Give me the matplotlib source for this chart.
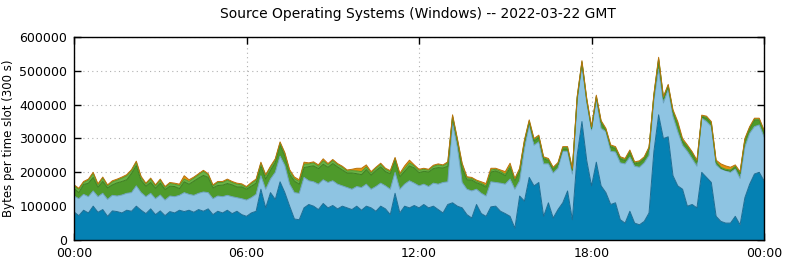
import numpy as np
import matplotlib
matplotlib.use('Agg')
import matplotlib.pyplot as plt
from matplotlib.ticker import FuncFormatter

# values in thousands of bytes, one value every 10 minutes (00:00 .. 24:00)
# top of the dark blue layer
dark_top = [
    83, 72, 88, 80, 100, 82, 90, 70, 86, 84, 80, 88, 85, 100, 88, 78, 92, 75, 86, 72, 84, 80, 88, 84, 88,
    82, 90, 85, 92, 75, 85, 80, 88, 78, 85, 75, 70, 80, 85, 150, 95, 140, 120, 172, 140, 100, 62, 60, 95,
    105, 100, 90, 108, 95, 102, 92, 100, 95, 90, 100, 88, 100, 95, 85, 100, 92, 75, 138, 80, 100, 95, 102, 95,
    105, 95, 100, 90, 80, 105, 110, 100, 95, 75, 65, 105, 78, 70, 98, 100, 85, 78, 70, 35, 130, 115, 185, 160,
    170, 70, 110, 65, 90, 110, 145, 60, 250, 350, 235, 160, 230, 160, 140, 105, 110, 60, 50, 85, 50, 45, 55, 80,
    260, 370, 300, 305, 190, 160, 150, 100, 105, 95, 200, 185, 170, 70, 55, 50, 50, 70, 45, 125, 165, 195, 200, 175,
]
# top of the light blue layer
light_top = [
    130, 122, 135, 128, 145, 128, 138, 120, 132, 130, 133, 138, 140, 160, 140, 128, 138, 122, 133, 118, 130, 128, 132, 140, 135,
    132, 138, 142, 140, 122, 130, 128, 132, 128, 125, 122, 118, 125, 135, 190, 150, 180, 200, 248, 220, 165, 140, 138, 185,
    175, 172, 165, 178, 170, 175, 165, 160, 155, 150, 158, 155, 165, 150, 158, 168, 160, 150, 200, 150, 165, 175, 168, 160,
    165, 158, 168, 165, 170, 172, 345, 275, 170, 150, 145, 150, 138, 130, 172, 170, 168, 165, 180, 150, 175, 270, 340, 280,
    290, 225, 225, 198, 212, 262, 262, 195, 410, 515, 405, 325, 415, 330, 320, 262, 260, 228, 225, 245, 218, 215, 228, 250,
    410, 505, 405, 445, 365, 320, 280, 262, 240, 218, 360, 350, 335, 222, 210, 205, 200, 210, 182, 275, 315, 335, 340, 305,
]
# total (top of the stack)
total = [
    163, 153, 173, 180, 200, 166, 186, 163, 175, 180, 186, 193, 208, 233, 188, 168, 183, 163, 180, 158, 170, 168, 165, 190, 178,
    186, 196, 206, 196, 163, 173, 173, 180, 173, 168, 166, 158, 170, 180, 230, 193, 218, 240, 290, 258, 208, 186, 178, 230,
    228, 231, 222, 240, 226, 238, 226, 218, 207, 209, 212, 212, 222, 202, 215, 227, 212, 205, 244, 197, 219, 236, 222, 209,
    212, 209, 221, 225, 222, 231, 370, 300, 227, 187, 185, 177, 172, 167, 212, 212, 207, 202, 227, 182, 212, 296, 355, 300,
    310, 246, 241, 215, 229, 276, 276, 212, 424, 530, 419, 335, 428, 353, 330, 281, 276, 246, 241, 266, 231, 234, 246, 275,
    430, 540, 424, 460, 385, 350, 300, 281, 261, 236, 369, 366, 350, 236, 225, 219, 215, 222, 202, 300, 335, 360, 360, 325,
]
# thin layers on top: light green and orange (thickness)
lgreen = [
    8, 10, 6, 9, 12, 7, 10, 6, 9, 8, 10, 12, 8, 10, 9, 6, 10, 7, 9, 6, 8, 7, 9, 8, 8,
    9, 10, 12, 8, 6, 9, 8, 10, 7, 8, 6, 5, 8, 9, 8, 10, 9, 8, 6, 8, 9, 7, 8, 10,
    8, 9, 7, 10, 8, 9, 7, 8, 6, 7, 8, 9, 8, 6, 7, 8, 7, 6, 5, 7, 8, 9, 6, 7,
    6, 5, 7, 8, 6, 10, 4, 4, 12, 6, 5, 5, 4, 4, 6, 5, 5, 4, 6, 4, 5, 4, 4, 4,
    4, 3, 3, 3, 3, 4, 4, 3, 3, 3, 3, 3, 3, 3, 3, 3, 3, 3, 3, 3, 3, 3, 3, 3,
    3, 3, 3, 3, 3, 3, 3, 3, 3, 3, 3, 3, 3, 3, 3, 3, 3, 3, 3, 3, 3, 3, 3, 3,
]
orange = [
    3, 3, 3, 3, 3, 3, 3, 3, 3, 3, 3, 3, 3, 3, 3, 3, 3, 3, 3, 3, 3, 3, 4, 10, 5,
    3, 3, 3, 3, 3, 3, 3, 3, 3, 3, 3, 3, 3, 3, 3, 3, 3, 3, 3, 3, 5, 5, 5, 6,
    3, 3, 4, 6, 3, 3, 3, 3, 3, 4, 8, 10, 6, 4, 3, 3, 3, 3, 3, 3, 8, 8, 3, 3,
    3, 3, 3, 3, 3, 3, 3, 3, 3, 3, 3, 3, 4, 7, 5, 3, 4, 8, 8, 3, 3, 3, 3, 4,
    3, 3, 3, 3, 3, 3, 3, 3, 3, 3, 3, 3, 3, 3, 3, 3, 3, 3, 4, 3, 3, 3, 3, 3,
    3, 4, 3, 3, 4, 6, 6, 3, 3, 3, 3, 3, 3, 4, 10, 10, 8, 4, 3, 3, 3, 3, 3, 3,
]

title = 'Source Operating Systems (Windows) -- 2022-03-22 GMT'
xtick_labels = ['00:00', '06:00', '12:00', '18:00', '00:00']

hours = np.arange(len(total)) / 6.0
k = 1000.0
dark_top = np.array(dark_top) * k
light_top = np.array(light_top) * k
total = np.array(total) * k
orange_bot = total - np.array(orange) * k
green_top = orange_bot - np.array(lgreen) * k

fig = plt.figure(figsize=(7.85, 2.64), dpi=100)
ax = fig.add_axes([0.0943, 0.0909, 0.879, 0.769])

layers = [
    (0, dark_top, '#0581b3', '#1b6c93'),
    (dark_top, light_top, '#8ec4e2', '#6ea3c0'),
    (light_top, green_top, '#4e9a2b', '#3d7e20'),
    (green_top, orange_bot, '#6bb347', '#4e9a2b'),
    (orange_bot, total, '#e4900f', '#b8730c'),
]
for bot, top, fc, ec in layers:
    ax.fill_between(hours, bot, top, facecolor=fc, edgecolor='none', lw=0, zorder=2)
    ax.plot(hours, top, color=ec, lw=0.7, zorder=3)

ax.set_xlim(0, 24)
ax.set_ylim(0, 600000)
ax.set_xticks([0, 6, 12, 18, 24])
ax.set_xticklabels(xtick_labels)
ax.set_yticks(np.arange(0, 600001, 100000))
ax.yaxis.set_major_formatter(FuncFormatter(lambda v, p: '%d' % v))
ax.tick_params(direction='in', length=5, width=1, labelsize=9, top=True, right=True, pad=5)
ax.grid(True, color='#b0b0b0', linestyle=(0, (1, 3)), linewidth=0.8, zorder=1)
ax.set_axisbelow(True)
for s in ax.spines.values():
    s.set_linewidth(1.0)
    s.set_zorder(5)

ax.set_ylabel('Bytes per time slot (300 s)', fontsize=8.5)
ax.yaxis.set_label_coords(-0.085, 0.5)
fig.suptitle(title, fontsize=10, x=0.533, y=0.975)

plt.savefig('out.png', dpi=100)
plt.close()
